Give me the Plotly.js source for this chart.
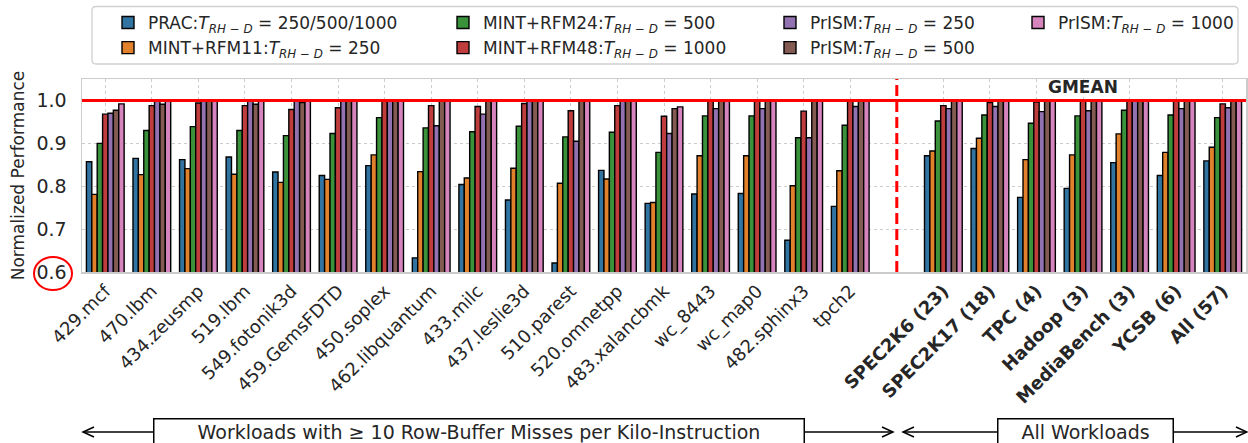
<!DOCTYPE html>
<html><head><meta charset="utf-8">
<script src="https://cdn.plot.ly/plotly-3.0.1.min.js"></script>
<style>html,body{margin:0;padding:0;background:#fff}#chart{width:1248px;height:443px}</style>
</head><body><div id="chart"></div>
<script>
// ---- data ----
const workloads = ['429.mcf','470.lbm','434.zeusmp','519.lbm','549.fotonik3d','459.GemsFDTD','450.soplex',
  '462.libquantum','433.milc','437.leslie3d','510.parest','520.omnetpp','483.xalancbmk','wc_8443','wc_map0',
  '482.sphinx3','tpch2'];
const gmeanGroups = ['SPEC2K6 (23)','SPEC2K17 (18)','TPC (4)','Hadoop (3)','MediaBench (3)','YCSB (6)','All (57)'];

const seriesNames = [
  'PRAC:<i>T</i><sub><i>RH − D</i></sub> = 250/500/1000',
  'MINT+RFM11:<i>T</i><sub><i>RH − D</i></sub> = 250',
  'MINT+RFM24:<i>T</i><sub><i>RH − D</i></sub> = 500',
  'MINT+RFM48:<i>T</i><sub><i>RH − D</i></sub> = 1000',
  'PrISM:<i>T</i><sub><i>RH − D</i></sub> = 250',
  'PrISM:<i>T</i><sub><i>RH − D</i></sub> = 500',
  'PrISM:<i>T</i><sub><i>RH − D</i></sub> = 1000'
];
const seriesColors = ['#3274a1','#e1812c','#3a923a','#c03d3e','#9372b2','#845b53','#d684bd'];

// values: 17 workloads followed by 7 GMEAN groups
const prac      = [0.857,0.865,0.862,0.868,0.833,0.825,0.848,0.633,0.804,0.768,0.621,0.837,0.760,0.782,0.783,0.674,0.753,
                   0.871,0.888,0.774,0.795,0.855,0.825,0.859];
const mintRfm11 = [0.781,0.827,0.841,0.828,0.809,0.816,0.873,0.834,0.819,0.842,0.807,0.817,0.762,0.871,0.871,0.801,0.836,
                   0.882,0.912,0.862,0.873,0.922,0.879,0.891];
const mintRfm24 = [0.900,0.930,0.939,0.930,0.918,0.923,0.960,0.936,0.927,0.940,0.915,0.926,0.879,0.964,0.964,0.913,0.942,
                   0.952,0.966,0.947,0.964,0.977,0.966,0.960];
const mintRfm48 = [0.968,0.988,0.994,0.988,0.979,0.983,1.000,0.988,0.986,0.993,0.976,0.988,0.963,1.000,1.000,0.975,1.000,
                   0.988,0.995,0.996,0.998,1.000,0.998,0.992];
const prism250  = [0.970,0.998,1.000,1.000,1.000,1.000,1.000,0.941,0.968,1.000,0.905,1.000,0.923,0.981,0.981,0.913,0.986,
                   0.981,0.986,0.974,0.976,1.000,0.981,0.983];
const prism500  = [0.977,0.991,1.000,0.991,0.995,1.000,1.000,1.000,1.000,1.000,1.000,1.000,0.981,1.000,1.000,1.000,1.000,
                   1.000,1.000,1.000,1.000,1.000,1.000,1.000];
const prism1000 = [0.992,1.000,1.000,1.000,1.000,1.000,1.000,1.000,1.000,1.000,1.000,1.000,0.985,1.000,1.000,1.000,1.000,
                   1.000,1.000,1.000,1.000,1.000,1.000,1.000];
const allSeries = [prac, mintRfm11, mintRfm24, mintRfm48, prism250, prism500, prism1000];

const yTicks = [0.6, 0.7, 0.8, 0.9, 1.0];

// ---- geometry ----
const W = 1248, H = 443;
const M = {l: 82, r: 2, t: 79, b: 171};
const pw = W - M.l - M.r, ph = H - M.t - M.b;
const px2x = px => (px - M.l) / pw;
const py2y = py => (H - M.b - py) / ph;

// x positions: workloads, one empty slot (separator), then GMEAN groups
const xPos = workloads.map((_, i) => i).concat(gmeanGroups.map((_, j) => workloads.length + 1 + j));
const sepX = workloads.length;
const xLabels = workloads.concat(gmeanGroups.map(g => '<b>' + g + '</b>'));
const gmeanCenter = (xPos[workloads.length] + xPos[xPos.length - 1]) / 2;

const legendIds = ['legend','legend','legend2','legend2','legend3','legend3','legend4'];

const font = 'DejaVu Sans, Verdana, sans-serif';
const txt = '#262626';

const traces = allSeries.map((vals, k) => ({
  type: 'bar',
  x: xPos,
  y: vals,
  name: seriesNames[k],
  legend: legendIds[k],
  legendgroup: 'g' + k,
  marker: {color: seriesColors[k], line: {color: '#000', width: 1.4}},
  hoverinfo: 'skip'
}));

const legendTextX = [148, 483, 810, 1058];
function legendCfg(i) {
  return {
    x: px2x(legendTextX[i] - 40), y: py2y(5), xref: 'paper', yref: 'paper',
    xanchor: 'left', yanchor: 'top', orientation: 'v',
    bgcolor: 'rgba(0,0,0,0)', borderwidth: 0,
    font: {family: font, size: 17, color: txt},
    tracegroupgap: 0, itemwidth: 30
  };
}

// rounded rectangle for the legend frame (pixel coords -> paper path)
function roundRect(x0, y0, x1, y1, r) {
  const X = v => px2x(v), Y = v => py2y(v);
  return `M${X(x0 + r)},${Y(y0)} L${X(x1 - r)},${Y(y0)} Q${X(x1)},${Y(y0)} ${X(x1)},${Y(y0 + r)} ` +
         `L${X(x1)},${Y(y1 - r)} Q${X(x1)},${Y(y1)} ${X(x1 - r)},${Y(y1)} L${X(x0 + r)},${Y(y1)} ` +
         `Q${X(x0)},${Y(y1)} ${X(x0)},${Y(y1 - r)} L${X(x0)},${Y(y0 + r)} Q${X(x0)},${Y(y0)} ${X(x0 + r)},${Y(y0)} Z`;
}

// double-headed arrow (open heads) from pixel xa to xb at pixel row y
function arrowShapes(xa, xb, y) {
  const hl = 11, hw = 5;
  const X = v => px2x(v), Y = v => py2y(v);
  const ln = {color: '#000', width: 1.5};
  return [
    {type: 'line', xref: 'paper', yref: 'paper', x0: X(xa), x1: X(xb), y0: Y(y), y1: Y(y), line: ln, layer: 'above'},
    {type: 'path', xref: 'paper', yref: 'paper', line: ln, layer: 'above',
     path: `M${X(xa + hl)},${Y(y - hw)} L${X(xa)},${Y(y)} L${X(xa + hl)},${Y(y + hw)}`},
    {type: 'path', xref: 'paper', yref: 'paper', line: ln, layer: 'above',
     path: `M${X(xb - hl)},${Y(y - hw)} L${X(xb)},${Y(y)} L${X(xb - hl)},${Y(y + hw)}`}
  ];
}

const layout = {
  width: W, height: H,
  margin: M,
  paper_bgcolor: '#fff', plot_bgcolor: '#fff',
  barmode: 'group', bargap: 0.19, bargroupgap: 0,
  font: {family: font, color: txt},
  showlegend: true,
  legend: legendCfg(0), legend2: legendCfg(1), legend3: legendCfg(2), legend4: legendCfg(3),
  xaxis: {
    range: [-0.5, xPos[xPos.length - 1] + 0.5],
    tickmode: 'array', tickvals: xPos, ticktext: xLabels,
    tickangle: -45, tickfont: {family: font, size: 18, color: txt},
    showgrid: true, gridcolor: '#cccccc', griddash: 'dot', gridwidth: 1,
    showline: true, mirror: true, linecolor: '#cccccc', linewidth: 1.5,
    ticks: '', zeroline: false, fixedrange: true, automargin: false
  },
  yaxis: {
    range: [0.6, 1.05],
    tickmode: 'array', tickvals: yTicks, ticktext: yTicks.map(v => v.toFixed(1)),
    tickfont: {family: font, size: 19, color: txt},
    ticklabelstandoff: 10,
    title: {text: 'Normalized Performance', font: {family: font, size: 17, color: txt}, standoff: 7},
    showgrid: true, gridcolor: '#cccccc', griddash: 'dot', gridwidth: 1,
    showline: true, mirror: true, linecolor: '#cccccc', linewidth: 1.5,
    ticks: '', zeroline: false, fixedrange: true, automargin: false
  },
  shapes: [
    // legend frame
    {type: 'path', xref: 'paper', yref: 'paper', path: roundRect(92, 6.5, 1238, 64, 4),
     line: {color: '#d0d0d0', width: 1.3}, fillcolor: 'rgba(255,255,255,0.8)', layer: 'below'},
    // baseline y = 1.0
    {type: 'line', xref: 'paper', x0: 0, x1: 1, yref: 'y', y0: 1.0, y1: 1.0,
     line: {color: '#ff0000', width: 3}, layer: 'above'},
    // separator
    {type: 'line', xref: 'x', x0: sepX, x1: sepX, yref: 'paper', y0: 0, y1: 1,
     line: {color: '#ff0000', width: 3, dash: '11px,5px'}, layer: 'above'},
    // red circle around 0.6 tick label
    {type: 'circle', xref: 'paper', yref: 'paper',
     x0: px2x(34), x1: px2x(72), y0: py2y(290), y1: py2y(257),
     line: {color: '#ff0000', width: 2}, fillcolor: 'rgba(0,0,0,0)', layer: 'above'}
  ].concat(arrowShapes(83, 893, 432), arrowShapes(903, 1247, 432)),
  annotations: [
    {text: '<b>GMEAN</b>', xref: 'x', yref: 'y', x: gmeanCenter, y: 1.031, showarrow: false,
     font: {family: font, size: 17, color: txt}, xanchor: 'center', yanchor: 'middle'},
    // boxed region labels
    {text: 'Workloads with ≥ 10 Row-Buffer Misses per Kilo-Instruction', xref: 'paper', yref: 'paper',
     x: px2x((153 + 804) / 2), y: py2y(432), showarrow: false, xanchor: 'center', yanchor: 'middle',
     width: 647, height: 22, bgcolor: '#fff', bordercolor: '#000', borderwidth: 1.5, borderpad: 1,
     font: {family: font, size: 19, color: txt}},
    {text: 'All Workloads', xref: 'paper', yref: 'paper',
     x: px2x((997 + 1173) / 2), y: py2y(432), showarrow: false, xanchor: 'center', yanchor: 'middle',
     width: 172, height: 22, bgcolor: '#fff', bordercolor: '#000', borderwidth: 1.5, borderpad: 1,
     font: {family: font, size: 19, color: txt}}
  ]
};

Plotly.newPlot('chart', traces, layout, {displayModeBar: false, staticPlot: true});
</script>
</body></html>
